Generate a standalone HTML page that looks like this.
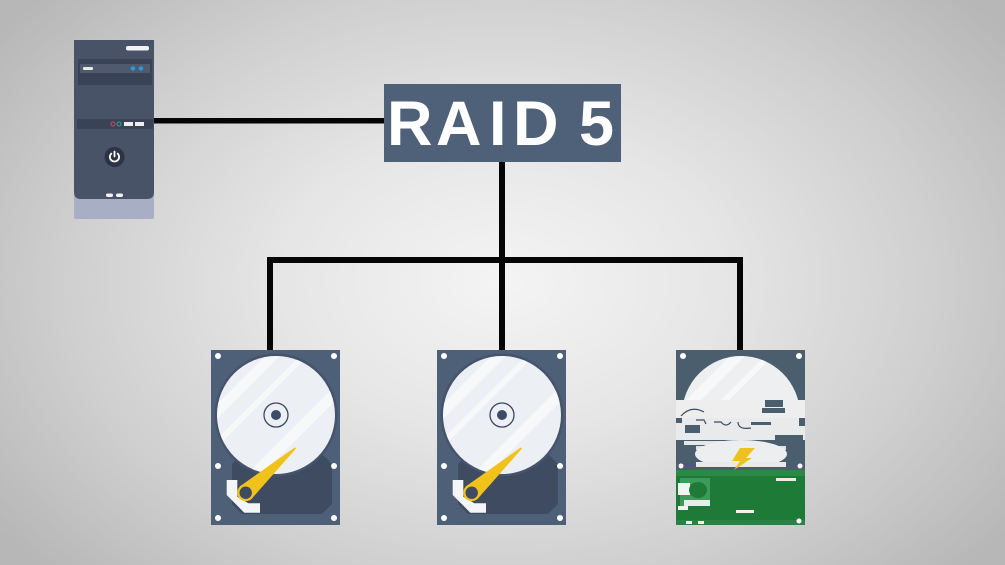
<!DOCTYPE html>
<html>
<head>
<meta charset="utf-8">
<style>
  html,body{margin:0;padding:0;}
  body{width:1005px;height:565px;overflow:hidden;
    background:radial-gradient(ellipse 62% 75% at 50% 50%, #f4f4f4 0%, #e6e6e6 35%, #cfcfcf 70%, #b7b7b7 100%);}
  svg{display:block;position:absolute;left:0;top:0;}
</style>
</head>
<body>
<svg width="1005" height="565" viewBox="0 0 1005 565" xmlns="http://www.w3.org/2000/svg">
  <defs>
    <clipPath id="plat"><circle cx="65" cy="65" r="59"/></clipPath>
    <g id="drive">
      <rect x="0" y="0" width="129" height="175" fill="#4e5f78"/>
      <polygon points="31,104 111,104 121,114 121,154 111,164 31,164 21,154 21,114" fill="#3e4b61"/>
      <circle cx="65" cy="65" r="61.5" fill="#45546c"/>
      <circle cx="65" cy="65" r="59" fill="#eceff4"/>
      <g clip-path="url(#plat)" fill="#ffffff" opacity="0.55">
        <polygon points="0,60 60,0 75,0 0,75"/>
        <polygon points="0,95 95,0 103,0 0,103"/>
        <polygon points="30,130 130,30 130,45 45,130"/>
      </g>
      <circle cx="65" cy="65" r="12" fill="none" stroke="#3b4660" stroke-width="1.3"/>
      <circle cx="65" cy="65" r="5" fill="#3d4c66"/>
      <polygon points="15.7,130 26.3,130 26.3,146.7 37.3,153.3 49,153.3 49,162.7 33.3,162.7 15.7,145" fill="#f4f5f7"/>
      <polygon points="28.9,136.4 84,97.3 85,98.5 40.5,149" fill="#f1c21b"/>
      <circle cx="34.7" cy="142.7" r="8.5" fill="#f1c21b"/>
      <circle cx="34.7" cy="142.7" r="6.2" fill="#3e4b61"/>
      <g fill="#ffffff">
        <circle cx="7" cy="6" r="3"/><circle cx="123" cy="6" r="3"/>
        <circle cx="7" cy="116" r="3"/><circle cx="123" cy="116" r="3"/>
        <circle cx="7" cy="168" r="3"/><circle cx="123" cy="168" r="3"/>
      </g>
    </g>
  </defs>

  <!-- connectors -->
  <rect x="154" y="118" width="232" height="5.5" fill="#050505"/>
  <rect x="499" y="160" width="6" height="102" fill="#050505"/>
  <rect x="267" y="257" width="476" height="6" fill="#050505"/>
  <rect x="267" y="257" width="6" height="95" fill="#050505"/>
  <rect x="499" y="257" width="6" height="95" fill="#050505"/>
  <rect x="737" y="257" width="6" height="95" fill="#050505"/>

  <!-- computer -->
  <rect x="74" y="186" width="80" height="33" rx="2" fill="#a8aec4"/>
  <path d="M74,40 H154 V192 Q154,199 147,199 H81 Q74,199 74,192 Z" fill="#485367"/>
  <rect x="126" y="46" width="23" height="4.5" rx="2" fill="#f2f3f5"/>
  <rect x="78" y="59" width="74" height="26" fill="#3a4356"/>
  <rect x="80" y="64" width="70" height="9" fill="#4f5a6e"/>
  <rect x="83" y="67" width="10" height="3" rx="1" fill="#e8e8e8"/>
  <circle cx="133" cy="68.5" r="2.2" fill="#2b9be0"/>
  <circle cx="141" cy="68.5" r="2.2" fill="#2b9be0"/>
  <rect x="77" y="119" width="76" height="10" fill="#3a4356"/>
  <circle cx="113" cy="124" r="2" fill="none" stroke="#d04a5a" stroke-width="1"/>
  <circle cx="119" cy="124" r="2" fill="none" stroke="#2aa88a" stroke-width="1"/>
  <rect x="124" y="122" width="9" height="4" fill="#eeeeee"/>
  <rect x="135" y="122" width="9" height="4" fill="#eeeeee"/>
  <circle cx="114.5" cy="157" r="10" fill="#2c3344"/>
  <path d="M111.3,153.6 A4.6,4.6 0 1 0 117.7,153.6" fill="none" stroke="#ffffff" stroke-width="1.8" stroke-linecap="round"/>
  <line x1="114.5" y1="151.5" x2="114.5" y2="156.5" stroke="#ffffff" stroke-width="1.8" stroke-linecap="round"/>
  <rect x="106" y="193.5" width="7" height="3.5" rx="1.7" fill="#f2f2f2"/>
  <rect x="116" y="193.5" width="7" height="3.5" rx="1.7" fill="#f2f2f2"/>

  <!-- RAID box -->
  <rect x="384" y="84" width="237" height="78" fill="#4f6079"/>
  <g font-family="'Liberation Sans', Arial, sans-serif" font-weight="bold" font-size="63" fill="#ffffff">
    <text x="387" y="145">R</text>
    <text x="436" y="145">A</text>
    <text x="489" y="145">I</text>
    <text x="513" y="145">D</text>
    <text x="579" y="145">5</text>
  </g>

  <!-- drives -->
  <use href="#drive" x="211" y="350"/>
  <use href="#drive" x="437" y="350"/>

  <g transform="translate(676,350)">
    <rect x="0" y="0" width="129" height="175" fill="#4a5e6e"/>
    <circle cx="65" cy="65" r="59" fill="#eeeff1"/>
    <g fill="#ffffff" opacity="0.55" clip-path="url(#plat)">
      <polygon points="0,60 60,0 75,0 0,75"/>
      <polygon points="0,95 95,0 103,0 0,103"/>
    </g>
    <circle cx="7" cy="6" r="3" fill="#fff"/><circle cx="123" cy="6" r="3" fill="#fff"/>
    <!-- glitch band -->
    <rect x="0" y="50" width="129" height="18" fill="#eeeeee"/>
    <rect x="89" y="50" width="18" height="7" fill="#4a5e6e"/>
    <rect x="86" y="58" width="23" height="5" fill="#4a5e6e"/>
    <rect x="0" y="68" width="129" height="22" fill="#e9eaec"/>
    <rect x="0" y="68" width="6" height="5" fill="#4a5e6e"/>
    <rect x="9" y="75" width="15" height="8" fill="#4a5e6e"/>
    <rect x="75" y="72" width="20" height="3" fill="#4a5e6e"/>
    <rect x="123" y="68" width="6" height="8" fill="#4a5e6e"/>
    <rect x="99" y="85" width="28" height="5" fill="#4a5e6e"/>
    <path d="M5,66 Q15,55 28,62 M20,70 L28,70 L30,74 M38,72 L45,72 Q50,78 55,72 M62,72 Q62,80 75,78" fill="none" stroke="#3d4c60" stroke-width="1.2"/>
    <rect x="0" y="90" width="129" height="12" fill="#4a5e6e"/>
    <rect x="8" y="91" width="55" height="4" fill="#e4e6e8"/>
    <rect x="20" y="96" width="90" height="4" fill="#dfe1e4"/>
    <rect x="0" y="102" width="129" height="18" fill="#4a5e6e"/>
    <ellipse cx="65" cy="104" rx="46" ry="14" fill="#eceef0"/>
    <rect x="0" y="112" width="129" height="8" fill="#4a5e6e"/>
    <rect x="20" y="112" width="90" height="5" fill="#e8e9eb"/>
    <polygon points="64,98 79,98 70,108 76,108 58,120 64,111 56,111" fill="#eec21e"/>
    <circle cx="5" cy="116" r="2.5" fill="#fff"/><circle cx="124" cy="116" r="2.5" fill="#fff"/>
    <!-- green -->
    <rect x="0" y="120" width="129" height="55" fill="#1d7b37"/>
    <rect x="0" y="120" width="129" height="6" fill="#2a8a45"/>
    <rect x="4" y="128" width="30" height="28" fill="#3c9a5a"/>
    <rect x="2" y="133" width="12" height="12" fill="#f1f4f1"/>
    <ellipse cx="22" cy="140" rx="9" ry="8" fill="#1d7b37"/>
    <rect x="8" y="150" width="26" height="6" fill="#e6efe7"/>
    <rect x="2" y="156" width="10" height="4" fill="#f1f4f1"/>
    <rect x="60" y="160" width="18" height="3" fill="#f2f2f2"/>
    <rect x="100" y="128" width="20" height="3" fill="#e6efe7"/>
    <rect x="0" y="170" width="129" height="5" fill="#2e7f46"/>
    <rect x="10" y="171" width="6" height="3" fill="#f0f0f0"/>
    <rect x="22" y="171" width="6" height="3" fill="#f0f0f0"/>
    <circle cx="123" cy="171" r="2.5" fill="#fff"/>
  </g>
</svg>
</body>
</html>
